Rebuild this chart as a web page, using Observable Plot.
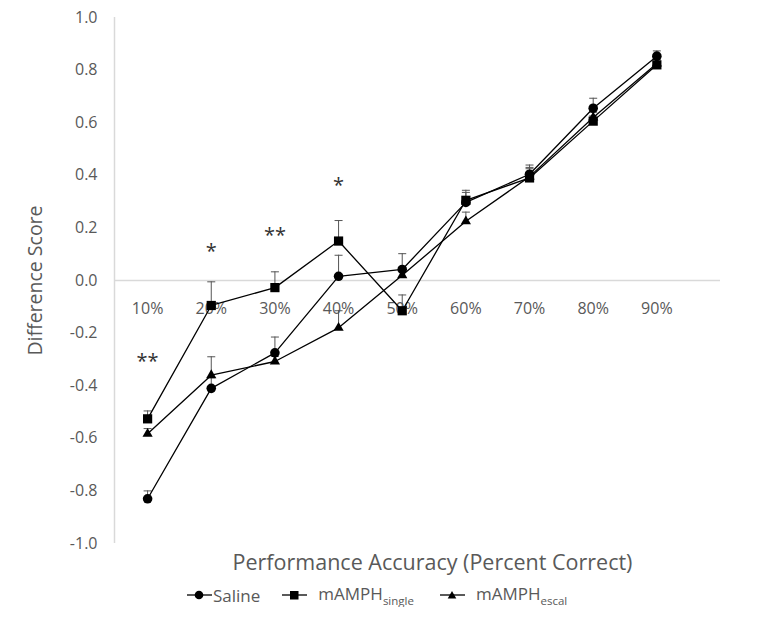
<!DOCTYPE html>
<html><head><meta charset="utf-8">
<script src="https://cdn.jsdelivr.net/npm/d3@7"></script>
<script src="https://cdn.jsdelivr.net/npm/@observablehq/plot@0.6"></script>
<style>
body{margin:0;background:#fff;font-family:"Open Sans",sans-serif;}
#legend{display:flex;justify-content:flex-start;align-items:center;padding-left:187px;height:24px;margin-top:3px;color:#595959;font-size:17px;}
.item{display:flex;align-items:center;}
sub{font-size:11.5px;vertical-align:-5px;}
</style></head><body>
<div id="chart"></div>
<div id="legend"></div>
<script>
const accuracy = [10, 20, 30, 40, 50, 60, 70, 80, 90];
const xTickLabels = ["10%", "20%", "30%", "40%", "50%", "60%", "70%", "80%", "90%"];
const yTicks = [1.0, 0.8, 0.6, 0.4, 0.2, 0.0, -0.2, -0.4, -0.6, -0.8, -1.0];
const seriesNames = ["Saline", "mAMPH single", "mAMPH escal"];
const saline      = [-0.83, -0.41, -0.275, 0.016, 0.042, 0.297, 0.404, 0.655, 0.853];
const salineErr   = [0.03, 0.04, 0.06, 0.08, 0.06, 0.046, 0.035, 0.038, 0.02];
const single      = [-0.526, -0.095, -0.027, 0.15, -0.115, 0.305, 0.39, 0.606, 0.82];
const singleErr   = [0.03, 0.09, 0.06, 0.078, 0.06, 0.03, 0.04, 0.02, 0.02];
const escal       = [-0.583, -0.36, -0.308, -0.18, 0.02, 0.225, 0.395, 0.62, 0.825];
const escalErr    = [0.02, 0.07, 0.02, 0.065, 0.03, 0.035, 0.03, 0.02, 0.02];
const sigAccuracy = [10, 20, 30, 40];
const sigLabels   = ["**", "*", "**", "*"];
const sigY        = [-0.31, 0.11, 0.17, 0.36];

const means = [saline, single, escal];
const errs = [salineErr, singleErr, escalErr];
const rows = seriesNames.flatMap((s, k) => accuracy.map((a, i) => ({series: s, x: a, y: means[k][i], err: errs[k][i]})));
const sig = sigAccuracy.map((a, i) => ({x: a, y: sigY[i], label: sigLabels[i]}));
const xDomain = [4.8, 100];
const cap = {draw(ctx) { ctx.moveTo(-4, 0); ctx.lineTo(4, 0); }};
const symbolFor = {"Saline": ["circle", 4.8], "mAMPH single": ["square", 5.2], "mAMPH escal": ["triangle", 3.8]};

const chart = Plot.plot({
  width: 762, height: 580,
  marginLeft: 114, marginRight: 42, marginTop: 17, marginBottom: 37,
  style: {fontFamily: "'Open Sans', sans-serif", color: "#595959", background: "#fff"},
  x: {type: "linear", domain: xDomain, axis: null},
  y: {domain: [-1, 1]},
  marks: [
    Plot.ruleY([0], {stroke: "#d9d9d9", strokeWidth: 1.5}),
    Plot.ruleX([xDomain[0]], {stroke: "#d9d9d9", strokeWidth: 1.5}),
    Plot.axisY(yTicks, {tickSize: 0, tickPadding: 17, tickFormat: d => d.toFixed(1), fontSize: 16, label: null}),
    Plot.text(accuracy, {x: d => d, y: () => 0, text: (d, i) => xTickLabels[i], dy: 28, fill: "#595959", fontSize: 16}),
    Plot.ruleX(rows, {x: "x", y1: "y", y2: d => d.y + d.err, stroke: "#555", strokeWidth: 1}),
    Plot.dot(rows, {x: "x", y: d => d.y + d.err, symbol: cap, stroke: "#555", strokeWidth: 1}),
    Plot.line(rows, {x: "x", y: "y", z: "series", stroke: "black", strokeWidth: 1.3}),
    ...seriesNames.map(s => Plot.dot(rows.filter(d => d.series === s), {x: "x", y: "y", symbol: symbolFor[s][0], r: symbolFor[s][1], fill: "black", stroke: "none"})),
    Plot.text(sig, {x: "x", y: "y", text: "label", fontSize: 20, fill: "#333", lineAnchor: "middle"}),
    Plot.text(["Difference Score"], {frameAnchor: "left", rotate: -90, dx: -79, fontSize: 19.5, fill: "#595959", textAnchor: "middle", lineAnchor: "middle"}),
    Plot.text(["Performance Accuracy (Percent Correct)"], {frameAnchor: "bottom", dy: 20, dx: 15, fontSize: 21.5, fill: "#595959", textAnchor: "middle", lineAnchor: "middle"})
  ]
});
document.getElementById("chart").append(chart);

const legendSymbols = {
  "Saline": '<circle cx="12" cy="8" r="4.3" fill="black"/>',
  "mAMPH single": '<rect x="8" y="4" width="8.5" height="8.5" fill="black"/>',
  "mAMPH escal": '<path d="M12,4 L16.3,11.5 L7.7,11.5 Z" fill="black"/>'
};
const legendHtml = {"Saline": "Saline", "mAMPH single": "mAMPH<sub>single</sub>", "mAMPH escal": "mAMPH<sub>escal</sub>"};
const gaps = {"Saline": "1px", "mAMPH single": "11px", "mAMPH escal": "11px"};
const margins = ["22px", "26px", "0"];
const legend = document.getElementById("legend");
seriesNames.forEach((s, i) => {
  const div = document.createElement("div");
  div.className = "item";
  div.style.marginRight = margins[i];
  div.innerHTML = `<svg width="25" height="16"><line x1="0" y1="8" x2="25" y2="8" stroke="black" stroke-width="1.3"/>${legendSymbols[s]}</svg><span style="margin-left:${gaps[s]}">${legendHtml[s]}</span>`;
  legend.append(div);
});
</script>
</body></html>
